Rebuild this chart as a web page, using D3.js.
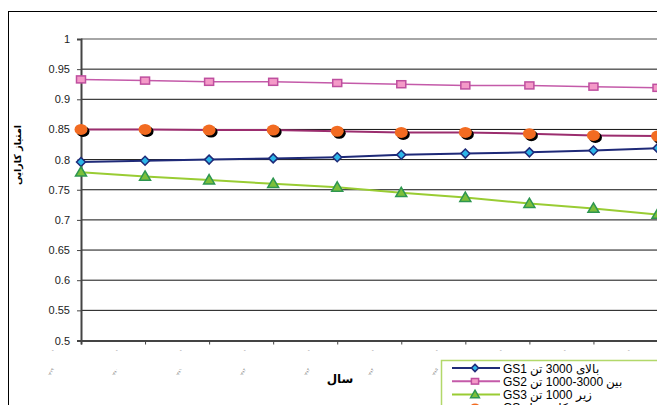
<!DOCTYPE html>
<html>
<head>
<meta charset="utf-8">
<script src="https://cdn.jsdelivr.net/npm/d3@7"></script>
<style>
  body { margin: 0; background: #fff; }
  svg { display: block; font-family: "Liberation Sans", Arial, sans-serif; }
</style>
</head>
<body>
<svg id="chart"></svg>
<script>
// years on the category axis (rendered tiny, as in the source)
const years = ['۱۳۷۹', '۱۳۸۰', '۱۳۸۱', '۱۳۸۲', '۱۳۸۳', '۱۳۸۴', '۱۳۸۵', '۱۳۸۶', '۱۳۸۷', '۱۳۸۸']
const yTicks = [0.5, 0.55, 0.6, 0.65, 0.7, 0.75, 0.8, 0.85, 0.9, 0.95, 1]

const gs1 = [0.796, 0.798, 0.800, 0.802, 0.804, 0.808, 0.810, 0.812, 0.815, 0.819]
const gs2 = [0.933, 0.931, 0.929, 0.929, 0.927, 0.925, 0.923, 0.923, 0.921, 0.919]
const gs3 = [0.779, 0.772, 0.766, 0.760, 0.754, 0.745, 0.737, 0.727, 0.719, 0.709]
const gsAll = [0.850, 0.850, 0.849, 0.849, 0.847, 0.845, 0.845, 0.843, 0.840, 0.839]

const seriesNames = ['GS1 بالای 3000 تن', 'GS2 بین \u20661000-3000\u2069 تن', 'GS3 زیر 1000 تن', 'GS کلی مدل']

const width = 657, height = 405
const svg = d3.select('#chart').attr('width', width).attr('height', height)

// outer chart frame (bigger than the viewport, cut at right/bottom)
svg.append('rect').attr('x', 8.5).attr('y', 11.5).attr('width', 700).attr('height', 420)
  .attr('fill', 'none').attr('stroke', '#000')

const x = d3.scalePoint().domain(years).range([81, 657.5])
const y = d3.scaleLinear().domain([0.5, 1]).range([340.5, 39])

// gridlines
svg.append('g').selectAll('line').data(yTicks.filter(d => d > 0.5)).enter()
  .append('line')
  .attr('x1', 81).attr('x2', width)
  .attr('y1', d => y(d)).attr('y2', d => y(d))
  .attr('stroke', d => d === 1 ? '#888' : '#111')
  .attr('stroke-width', d => d === 1 ? 1.5 : 1)

// y axis
const yAxis = svg.append('g').attr('transform', 'translate(81,0)')
  .call(d3.axisLeft(y).tickValues(yTicks).tickSize(4).tickPadding(7).tickFormat(d => String(+d.toFixed(2))))
yAxis.select('.domain').attr('stroke', '#444').attr('stroke-width', 2)
yAxis.selectAll('.tick line').attr('stroke', '#444')
yAxis.selectAll('.tick text').attr('font-size', 11).attr('fill', '#222')
  .attr('font-family', '"Liberation Sans", Arial, sans-serif')

// x axis
const xAxis = svg.append('g').attr('transform', 'translate(0,340.5)')
  .call(d3.axisBottom(x).tickSize(4).tickFormat(''))
xAxis.select('.domain').attr('stroke', '#444').attr('stroke-width', 2)
xAxis.selectAll('.tick line').attr('stroke', '#444')

// tiny tick labels, offset to the left of each tick
const lab = svg.append('g').selectAll('g').data(years).enter().append('g')
  .attr('transform', d => `translate(${x(d) - 29},0)`)
lab.append('text').attr('y', 351).attr('text-anchor', 'middle')
  .attr('font-size', 5).attr('fill', '#888').text('ـ')
lab.append('text').attr('transform', 'translate(0,373) rotate(-60)')
  .attr('text-anchor', 'middle').attr('font-size', 4).attr('fill', '#888').text(d => d)

// axis titles
svg.append('text').attr('x', 340).attr('y', 383).attr('text-anchor', 'middle')
  .attr('font-size', 12).attr('font-weight', 'bold').attr('font-family', '"DejaVu Sans", sans-serif')
  .attr('direction', 'rtl').text('سال')
svg.append('text').attr('transform', 'translate(21,155) rotate(-90)').attr('text-anchor', 'middle')
  .attr('font-size', 9.5).attr('font-weight', 'bold').attr('font-family', '"DejaVu Sans", sans-serif')
  .attr('direction', 'rtl').text('امتیاز کارایی')

const line = d3.line().x((d, i) => x(years[i])).y(d => y(d))

const series = [
  { name: seriesNames[0], data: gs1, color: '#1f2a78', marker: 'diamond', fill: '#2cb6e8', stroke: '#1f2a78' },
  { name: seriesNames[1], data: gs2, color: '#c45aa9', marker: 'square', fill: '#f49ac8', stroke: '#bf4f9f' },
  { name: seriesNames[2], data: gs3, color: '#99cc33', marker: 'triangle', fill: '#7cbf3a', stroke: '#2e9650' },
  { name: seriesNames[3], data: gsAll, color: '#9b2d6e', marker: 'circle', fill: '#f26b21', stroke: 'none' }
]

function drawMarker(g, s, cx, cy, scale) {
  const k = scale || 1
  if (s.marker === 'diamond') {
    const r = 4.5 * k
    g.append('path').attr('d', `M${cx},${cy - r}L${cx + r},${cy}L${cx},${cy + r}L${cx - r},${cy}Z`)
      .attr('fill', s.fill).attr('stroke', s.stroke).attr('stroke-width', 1.5)
  } else if (s.marker === 'square') {
    g.append('rect').attr('x', cx - 4.5 * k).attr('y', cy - 3.5 * k).attr('width', 9 * k).attr('height', 7 * k)
      .attr('fill', s.fill).attr('stroke', s.stroke).attr('stroke-width', 1.5)
  } else if (s.marker === 'triangle') {
    const r = 5.5 * k
    g.append('path').attr('d', `M${cx},${cy - r}L${cx + r},${cy + r * 0.7}L${cx - r},${cy + r * 0.7}Z`)
      .attr('fill', s.fill).attr('stroke', s.stroke).attr('stroke-width', 1.5)
  } else {
    if (k === 1) {
      g.append('ellipse').attr('cx', cx + 2).attr('cy', cy + 2).attr('rx', 6.5).attr('ry', 5.5).attr('fill', '#000')
    }
    g.append('ellipse').attr('cx', cx).attr('cy', cy).attr('rx', 6.5 * k).attr('ry', 5.5 * k).attr('fill', s.fill)
  }
}

series.forEach(s => {
  const g = svg.append('g')
  g.append('path').attr('d', line(s.data)).attr('fill', 'none')
    .attr('stroke', s.color).attr('stroke-width', s.marker === 'square' ? 1.5 : 2)
  s.data.forEach((v, i) => drawMarker(g, s, x(years[i]), y(v)))
})

// legend (its lower rows run past the bottom edge, as in the source)
const legend = svg.append('g').attr('transform', 'translate(441,360)')
legend.append('rect').attr('x', 0.5).attr('y', 0.5).attr('width', 260).attr('height', 70)
  .attr('fill', '#fff').attr('stroke', '#b2d86a').attr('stroke-width', 1.5)
series.forEach((s, i) => {
  const row = legend.append('g').attr('transform', `translate(0,${8 + i * 13.3})`)
  row.append('line').attr('x1', 11).attr('x2', 59).attr('y1', 0).attr('y2', 0)
    .attr('stroke', s.color).attr('stroke-width', 2)
  drawMarker(row, s, 34, 0, 0.8)
  row.append('text').attr('x', 62).attr('y', 4.5).attr('font-size', 12).attr('fill', '#000')
    .attr('font-family', '"Liberation Sans", Arial, "Noto Sans", sans-serif').text(s.name)
})
</script>
</body>
</html>
